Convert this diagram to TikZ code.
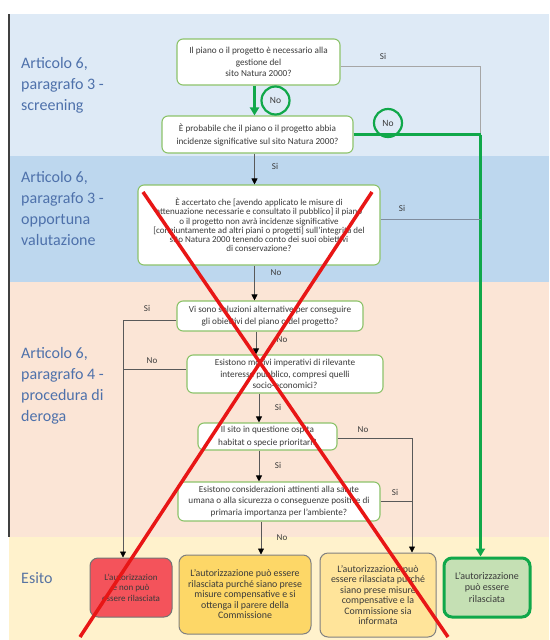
\documentclass[tikz,border=0pt]{standalone}
\usepackage{fontspec}
\setmainfont{Carlito}
\usetikzlibrary{arrows.meta,calc}
\definecolor{bandA}{HTML}{DEEAF6}
\definecolor{bandB}{HTML}{BDD7EE}
\definecolor{bandC}{HTML}{FBE5D6}
\definecolor{bandD}{HTML}{FFF2CC}
\definecolor{lblue}{HTML}{4E71AB}
\definecolor{boxline}{HTML}{8CC36A}
\definecolor{txt}{HTML}{3A3A3A}
\definecolor{conn}{HTML}{595959}
\definecolor{gconn}{HTML}{A6A6A6}
\definecolor{bconn}{HTML}{7F8C9D}
\definecolor{greenA}{HTML}{10A84A}
\definecolor{redfill}{HTML}{F4535B}
\definecolor{orfill}{HTML}{FDD767}
\definecolor{ylfill}{HTML}{FFE49A}
\definecolor{grfill}{HTML}{C5E0B4}
\definecolor{xred}{HTML}{E81616}
\begin{document}
\begin{tikzpicture}[x=1pt,y=-1pt,
 qbox/.style={draw=boxline,line width=1.1pt,fill=white,rounded corners=6pt,align=center,inner sep=0pt,text=txt,font=\fontsize{9.2}{11.6}\selectfont},
 ebox/.style={draw=gray,line width=1pt,rounded corners=8pt,align=center,inner sep=0pt,text=txt,font=\fontsize{9.9}{10.5}\selectfont},
 lbl/.style={text=txt,font=\fontsize{9}{10}\selectfont,inner sep=0pt},
 arr/.style={draw=conn,line width=0.8pt,-{Triangle[length=6pt,width=6pt,color=black]}},
 ln/.style={draw=conn,line width=0.8pt},
 side/.style={text=lblue,font=\fontsize{16}{21}\selectfont,anchor=base west,inner sep=0pt},
 gline/.style={draw=greenA,line width=2.6pt},
 gcirc/.style={circle,draw=greenA,line width=2.2pt,minimum size=28pt,inner sep=0pt,text=txt,font=\fontsize{9.5}{10}\selectfont},
 xline/.style={draw=xred,line width=3.5pt}
]
\useasboundingbox (0,0) rectangle (549,640);
% backgrounds
\fill[white] (0,0) rectangle (549,640);
\fill[bandA] (9,14) rectangle (549,156);
\fill[bandB] (9,156) rectangle (549,282);
\fill[bandC] (9,282) rectangle (549,537);
\fill[bandD] (9,537) rectangle (549,640);
\draw[draw=black!75,line width=1.4pt] (9,14) -- (9,537);

% side labels
\node[side] (s1a) at (21,68.5) {Articolo 6,};
\node[side] (s1b) at (21,89.5) {paragrafo 3 -};
\node[side] (s1c) at (21,110.5) {screening};
\node[side] (s2a) at (21,182.5) {Articolo 6,};
\node[side] (s2b) at (21,203.5) {paragrafo 3 -};
\node[side] (s2c) at (21,224.5) {opportuna};
\node[side] (s2d) at (21,245.5) {valutazione};
\node[side] (s3a) at (21,358.5) {Articolo 6,};
\node[side] (s3b) at (21,379.5) {paragrafo 4 -};
\node[side] (s3c) at (21,400.5) {procedura di};
\node[side] (s3d) at (21,421.5) {deroga};
\node[side,text=lblue!80!gray] (s4a) at (21,583) {Esito};

% x positions
\coordinate (xa) at (254.5,0);
\coordinate (xb) at (256,0);
\coordinate (xc) at (259,0);
\coordinate (xd) at (261,0);
\coordinate (xg) at (480.5,0);
\coordinate (xl) at (123,0);
\coordinate (xr) at (412,0);

% question boxes
\node[qbox,minimum width=163pt,minimum height=46pt] (q1) at (258.5,62)
 {Il piano o il progetto è necessario alla\\gestione del\\sito Natura 2000?};
\node[qbox,minimum width=191pt,minimum height=37pt,font=\fontsize{9.2}{13}\selectfont] (q2) at (257.5,134.5)
 {È probabile che il piano o il progetto abbia\\incidenze significative sul sito Natura 2000?};
\node[qbox,minimum width=242pt,minimum height=80pt,font=\fontsize{9}{9.2}\selectfont] (q3) at (259,225)
 {È accertato che [avendo applicato le misure di\\attenuazione necessarie e consultato il pubblico] il piano\\o il progetto non avrà incidenze significative\\{[}congiuntamente ad altri piani o progetti{]} sull'integrità del\\sito Natura 2000 tenendo conto dei suoi obiettivi\\di conservazione?};
\node[qbox,minimum width=186pt,minimum height=30pt] (q4) at (270,316)
 {Vi sono soluzioni alternative per conseguire\\gli obiettivi del piano o del progetto?};
\node[qbox,minimum width=196pt,minimum height=38pt] (q5) at (285,374)
 {Esistono motivi imperativi di rilevante\\interesse pubblico, compresi quelli\\socio-economici?};
\node[qbox,minimum width=139pt,minimum height=27pt,font=\fontsize{9.2}{12.3}\selectfont] (q6) at (267.5,436.5)
 {Il sito in questione ospita\\habitat o specie prioritari?};
\node[qbox,minimum width=202pt,minimum height=39pt,font=\fontsize{9.2}{11.2}\selectfont] (q7) at (279,501.5)
 {Esistono considerazioni attinenti alla salute\\umana o alla sicurezza o conseguenze positive di\\primaria importanza per l'ambiente?};

% outcome boxes
\node[ebox,draw=black!55,fill=redfill,minimum width=82pt,minimum height=59pt,font=\fontsize{9}{10.5}\selectfont] (r) at (131,587.5)
 {L'autorizzazion\\e non può\\essere rilasciata};
\node[ebox,draw=black!50,fill=orfill,minimum width=132pt,minimum height=79pt] (o1) at (245,594.5)
 {L'autorizzazione può essere\\rilasciata purché siano prese\\misure compensative e si\\ottenga il parere della\\Commissione};
\node[ebox,draw=black!50,fill=ylfill,minimum width=116pt,minimum height=84pt] (o2) at (378,595)
 {L'autorizzazione può\\essere rilasciata purché\\siano prese misure\\compensative e la\\Commissione sia\\informata};
\node[ebox,draw=greenA,line width=3pt,fill=grfill,minimum width=86pt,minimum height=59pt,font=\fontsize{10}{11.2}\selectfont] (g) at (487,587.5)
 {L'autorizzazione\\può essere\\rilasciata};

% connectors
\draw[draw=gconn,line width=1pt] ($(q1.east)+(0,4.5)$) -| (xg |- q2.east);
\draw[gline] (q2.east) -- (xg |- q2.east);
\draw[gline,-{Triangle[length=8pt,width=9pt]}] (xg |- q2.east) -- (g.north -| xg);
\draw[gline,-{Triangle[length=8pt,width=9pt]}] (q1.south -| xa) -- (q2.north -| xa);
\draw[arr] (q2.south -| xa) -- (q3.north -| xa);
\draw[draw=bconn,line width=1pt] ($(q3.east)+(0,-6)$) -- (xg |- {$(q3.east)+(0,-6)$});
\draw[arr] (q3.south -| xa) -- (q4.north -| xa);
\draw[ln] ($(q4.west)+(0,4)$) -| (xl |- q5.west);
\draw[arr] (xl |- q5.west) -- (r.north -| xl);
\draw[ln] ($(q5.west)+(0,-5)$) -- (xl |- {$(q5.west)+(0,-5)$});
\draw[arr] (q4.south -| xb) -- (q5.north -| xb);
\draw[arr] (q5.south -| xc) -- (q6.north -| xc);
\draw[ln] ($(q6.east)+(0,1.5)$) -| (xr |- q7.east);
\draw[arr] (xr |- q7.east) -- (o2.north -| xr);
\draw[ln] (q7.east) -- (xr |- q7.east);
\draw[arr] (q6.south -| xc) -- (q7.north -| xc);
\draw[arr] (q7.south -| xd) -- (o1.north -| xd);

% circles
\node[gcirc] (c1) at (275.5,100.5) {No};
\node[gcirc] (c2) at (388,123) {No};

% labels
\node[lbl] (l1) at (383,56) {Si};
\node[lbl] (l2) at (275,166) {Si};
\node[lbl] (l3) at (402,208) {Si};
\node[lbl] (l4) at (276,273) {No};
\node[lbl] (l5) at (147,308) {Si};
\node[lbl] (l6) at (282,340) {No};
\node[lbl] (l7) at (152,361) {No};
\node[lbl] (l8) at (278,407) {Si};
\node[lbl] (l9) at (363,430) {No};
\node[lbl] (l10) at (278,465) {Si};
\node[lbl] (l11) at (395,492) {Si};
\node[lbl] (l12) at (282,538) {No};

% red cross
\coordinate (xa1) at (143,192);
\coordinate (xa2) at (448,637);
\coordinate (xb1) at (372,192);
\coordinate (xb2) at (80,637);
\draw[xline] (xa1) -- (xa2);
\draw[xline] (xb1) -- (xb2);
\end{tikzpicture}
\end{document}
